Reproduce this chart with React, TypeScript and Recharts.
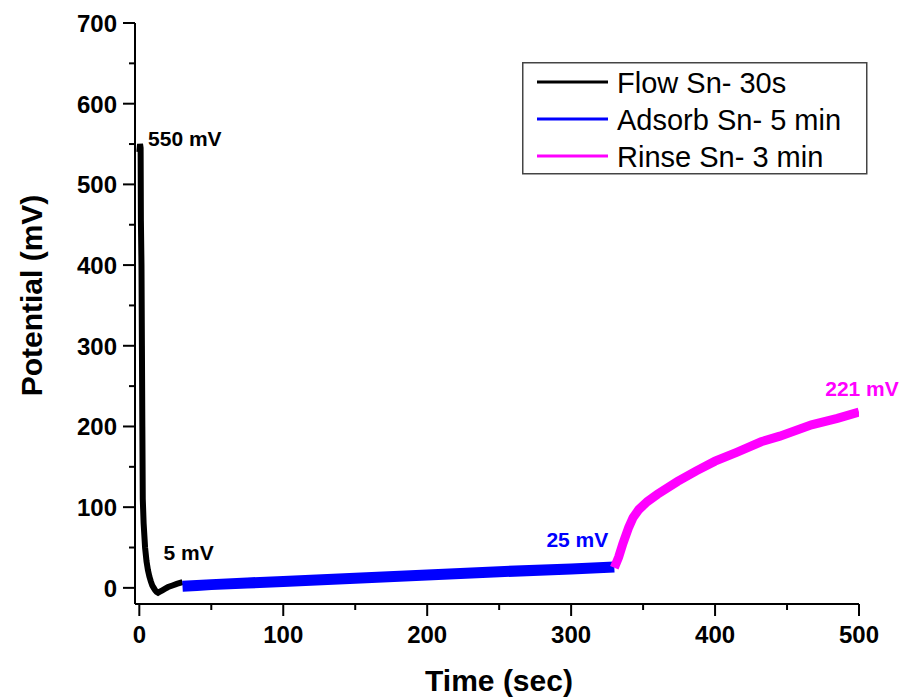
import { LineChart, Line, XAxis, YAxis, ReferenceDot } from 'recharts';

// time (s) and potential (mV)
const flowTime = [0, 0.5, 0.9, 1.1, 1.5, 1.8, 2.1, 2.4, 3, 4, 5, 6, 7, 8, 9, 10, 11, 12, 13, 14, 16, 18, 20, 23, 26, 30];
const flowMv = [540, 550, 545, 455, 400, 300, 200, 110, 80, 50, 33, 22, 14, 8, 3, 0, -3, -5, -6, -5, -3, -1, 1, 3, 5, 7];

const adsorbTime = [30, 40, 50, 75, 100, 150, 200, 250, 300, 330];
const adsorbMv = [2, 3, 4, 6, 8, 12, 16, 20, 23.5, 26];

const rinseTime = [330, 333, 336, 340, 343, 347, 353, 360, 374, 387, 400, 415, 432, 445, 467, 485, 500];
const rinseMv = [25, 38, 55, 75, 87, 97, 107, 116, 132, 145, 157, 168, 181, 188, 202, 210, 218];

const xTicks = [0, 50, 100, 150, 200, 250, 300, 350, 400, 450, 500];
const yTicks = [0, 50, 100, 150, 200, 250, 300, 350, 400, 450, 500, 550, 600, 650, 700];

const series = [
    { name: 'Flow Sn- 30s', color: '#000000' },
    { name: 'Adsorb Sn- 5 min', color: '#0000FF' },
    { name: 'Rinse Sn- 3 min', color: '#FF00FF' },
];

const toRows = (t: number[], v: number[]) => t.map((time, i) => ({ time, mv: v[i] }));
const flowData = toRows(flowTime, flowMv);
const adsorbData = toRows(adsorbTime, adsorbMv);
const rinseData = toRows(rinseTime, rinseMv);

const FONT = '"Liberation Sans", Arial, sans-serif';

const XTick = (props: any) => {
    const { x, y, payload } = props;
    const major = payload.value % 100 === 0;
    return (
        <g>
            <line x1={x} x2={x} y1={y} y2={y + (major ? 12 : 6)} stroke="#000" strokeWidth={2} />
            {major && (
                <text x={x} y={y + 39} textAnchor="middle" fontFamily={FONT} fontWeight="bold" fontSize={24} fill="#000">
                    {payload.value}
                </text>
            )}
        </g>
    );
};

const YTick = (props: any) => {
    const { x, y, payload } = props;
    const major = payload.value % 100 === 0;
    return (
        <g>
            <line x1={x - (major ? 12 : 6)} x2={x} y1={y} y2={y} stroke="#000" strokeWidth={2} />
            {major && (
                <text x={x - 18} y={y + 9} textAnchor="end" fontFamily={FONT} fontWeight="bold" fontSize={24} fill="#000">
                    {payload.value}
                </text>
            )}
        </g>
    );
};

const note = (text: string, color: string, dx: number, dy: number, anchor: 'start' | 'middle' | 'end') =>
    ({ viewBox }: any) => (
        <text
            x={viewBox.x + dx}
            y={viewBox.y + dy}
            textAnchor={anchor}
            fontFamily={FONT}
            fontWeight="bold"
            fontSize={21}
            fill={color}
        >
            {text}
        </text>
    );

const LegendBox = () => (
    <svg width={346} height={113} style={{ position: 'absolute', left: 522, top: 62, display: 'block' }}>
        <rect x={0.75} y={0.75} width={344} height={111} fill="#fff" stroke="#444" strokeWidth={1.5} />
        {series.map((s, i) => (
            <g key={s.name}>
                <line x1={15} x2={86} y1={20 + i * 37} y2={20 + i * 37} stroke={s.color} strokeWidth={3} />
                <text x={95} y={30.5 + i * 37} fontFamily={FONT} fontSize={29} fill="#000">
                    {s.name}
                </text>
            </g>
        ))}
    </svg>
);

const App = () => {
    return (
        <div style={{ position: 'absolute', left: 0, top: 0, width: 906, height: 700, background: '#fff' }}>
            <LineChart
                width={906}
                height={700}
                margin={{ top: 23, right: 47, left: 0, bottom: 0 }}
            >
                <XAxis
                    type="number"
                    dataKey="time"
                    domain={[-3, 500]}
                    ticks={xTicks}
                    interval={0}
                    allowDataOverflow
                    height={96}
                    stroke="#000"
                    strokeWidth={2}
                    tickLine={false}
                    tickSize={0}
                    tickMargin={0}
                    tick={<XTick />}
                    label={{
                        content: ({ viewBox }: any) => (
                            <text
                                x={viewBox.x + viewBox.width / 2 + 2}
                                y={viewBox.y + 87}
                                textAnchor="middle"
                                fontFamily={FONT}
                                fontWeight="bold"
                                fontSize={30}
                                fill="#000"
                            >
                                Time (sec)
                            </text>
                        ),
                    }}
                />
                <YAxis
                    type="number"
                    dataKey="mv"
                    domain={[-20, 700]}
                    ticks={yTicks}
                    interval={0}
                    allowDataOverflow
                    width={135}
                    stroke="#000"
                    strokeWidth={2}
                    tickLine={false}
                    tickSize={0}
                    tickMargin={0}
                    tick={<YTick />}
                    label={{
                        content: ({ viewBox }: any) => {
                            const cx = 31;
                            const cy = viewBox.y + viewBox.height / 2 - 18;
                            return (
                                <text
                                    x={cx}
                                    y={cy}
                                    transform={`rotate(-90, ${cx}, ${cy})`}
                                    textAnchor="middle"
                                    dominantBaseline="central"
                                    fontFamily={FONT}
                                    fontWeight="bold"
                                    fontSize={30}
                                    fill="#000"
                                >
                                    Potential (mV)
                                </text>
                            );
                        },
                    }}
                />
                <Line
                    data={flowData}
                    dataKey="mv"
                    name={series[0].name}
                    stroke={series[0].color}
                    strokeWidth={6}
                    dot={false}
                    type="linear"
                    isAnimationActive={false}
                />
                <Line
                    data={adsorbData}
                    dataKey="mv"
                    name={series[1].name}
                    stroke={series[1].color}
                    strokeWidth={11}
                    dot={false}
                    type="linear"
                    isAnimationActive={false}
                />
                <Line
                    data={rinseData}
                    dataKey="mv"
                    name={series[2].name}
                    stroke={series[2].color}
                    strokeWidth={9}
                    dot={false}
                    type="linear"
                    isAnimationActive={false}
                />
                <ReferenceDot x={0.5} y={550} r={0} fill="none" stroke="none" label={{ content: note('550 mV', '#000', 8, 2, 'start') }} />
                <ReferenceDot x={30} y={7} r={0} fill="none" stroke="none" label={{ content: note('5 mV', '#000', -19, -22, 'start') }} />
                <ReferenceDot x={330} y={26} r={0} fill="none" stroke="none" label={{ content: note('25 mV', '#0000FF', -6, -20, 'end') }} />
                <ReferenceDot x={500} y={218} r={0} fill="none" stroke="none" label={{ content: note('221 mV', '#FF00FF', 3, -16, 'middle') }} />
            </LineChart>
            <LegendBox />
        </div>
    );
};

export default App;
